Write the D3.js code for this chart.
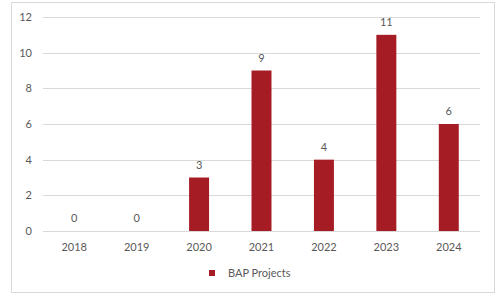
<!DOCTYPE html>
<html lang="en">
<head>
    <meta charset="UTF-8">
    <title>BAP Projects</title>
    <script src="https://d3js.org/d3.v7.min.js"></script>
    <style>
        body {
            margin: 0;
            background-color: #fff;
            font-family: 'Lato', 'Open Sans', sans-serif;
        }
        #chart text {
            fill: #595959;
            font-size: 11px;
        }
    </style>
</head>
<body>
    <svg id="chart" width="501" height="294"></svg>
    <script>
        const years = ["2018", "2019", "2020", "2021", "2022", "2023", "2024"];
        const projects = [0, 0, 3, 9, 4, 11, 6];
        const yTicks = [0, 2, 4, 6, 8, 10, 12];
        const seriesName = "BAP Projects";

        const svg = d3.select("#chart");
        const barColor = "#a51c24";

        // chart frame
        svg.append("rect")
            .attr("x", 11.5).attr("y", 2.5)
            .attr("width", 483).attr("height", 290)
            .attr("fill", "#fff")
            .attr("stroke", "#d9d9d9");

        const x = d3.scaleBand()
            .domain(years)
            .range([43, 480])
            .paddingInner(0.68)
            .paddingOuter(0.34);

        const y = d3.scaleLinear()
            .domain([0, 12])
            .range([231, 17]);

        // gridlines
        svg.append("g")
            .selectAll("line")
            .data(yTicks)
            .enter()
            .append("line")
            .attr("x1", 43).attr("x2", 480)
            .attr("y1", d => Math.round(y(d)) + 0.5)
            .attr("y2", d => Math.round(y(d)) + 0.5)
            .attr("stroke", "#d9d9d9")
            .attr("stroke-width", 1);

        // y tick labels
        svg.append("g")
            .selectAll("text")
            .data(yTicks)
            .enter()
            .append("text")
            .attr("x", 32)
            .attr("y", d => y(d) + 4)
            .attr("text-anchor", "end")
            .text(d => d);

        // bars
        svg.append("g")
            .selectAll("rect")
            .data(projects)
            .enter()
            .append("rect")
            .attr("x", (d, i) => x(years[i]))
            .attr("y", d => y(d))
            .attr("width", x.bandwidth())
            .attr("height", d => y(0) - y(d))
            .attr("fill", barColor);

        // data labels
        svg.append("g")
            .selectAll("text")
            .data(projects)
            .enter()
            .append("text")
            .attr("x", (d, i) => x(years[i]) + x.bandwidth() / 2)
            .attr("y", d => y(d) - 9)
            .attr("text-anchor", "middle")
            .text(d => d);

        // x labels
        svg.append("g")
            .selectAll("text")
            .data(years)
            .enter()
            .append("text")
            .attr("x", d => x(d) + x.bandwidth() / 2)
            .attr("y", 251)
            .attr("text-anchor", "middle")
            .text(d => d);

        // legend
        svg.append("rect")
            .attr("x", 209).attr("y", 270)
            .attr("width", 6).attr("height", 6)
            .attr("fill", barColor);
        svg.append("text")
            .attr("x", 228).attr("y", 277)
            .text(seriesName);
    </script>
</body>
</html>
